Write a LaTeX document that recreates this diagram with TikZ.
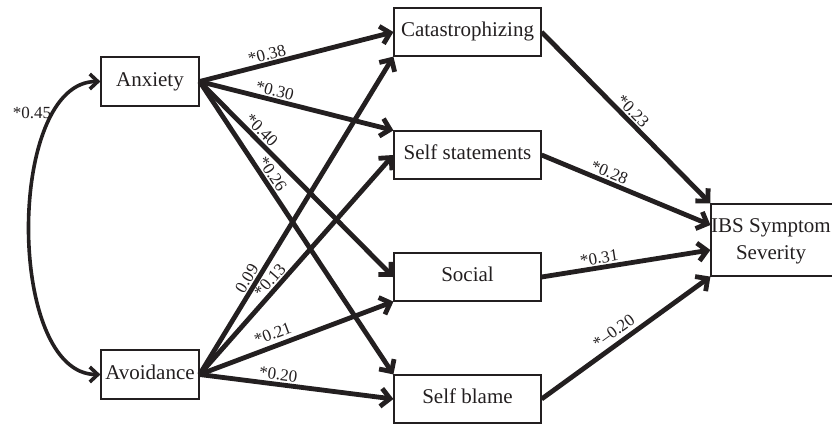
\documentclass[tikz,border=0pt]{standalone}
\usepackage{fontspec}
\setmainfont{Liberation Serif}
\usetikzlibrary{arrows.meta}
\definecolor{ink}{RGB}{35,31,32}
\begin{document}
\begin{tikzpicture}[x=1pt,y=-1pt,
  box/.style={draw=ink, line width=1.2pt, text=ink, inner sep=0pt,
    font=\fontsize{21}{28}\selectfont},
  sbox/.style={box, minimum width=147pt, minimum height=48pt, text height=14.3pt, text depth=4.6pt},
  conn/.style={draw=ink, line width=4.8pt, -{Straight Barb[length=9pt,width=18pt]}},
  lab/.style={text=ink, font=\fontsize{17}{20}\selectfont, inner sep=1.5pt, sloped, above}
]
\useasboundingbox (0,0) rectangle (832,423);

\node[box, minimum width=98pt, minimum height=49pt, text height=14.3pt, text depth=4.6pt] (anx) at (150,81.5) {Anxiety};
\node[box, minimum width=98pt, minimum height=49pt, text height=14.3pt, text depth=4.6pt] (avo) at (150,374.5) {Avoidance};
\node[sbox] (cat) at (467.5,32) {Catastrophizing};
\node[sbox] (ss) at (467.5,155) {Self statements};
\node[sbox] (soc) at (467.5,277) {Social};
\node[sbox] (sb) at (467.5,399) {Self blame};
\node[box, minimum width=129pt, minimum height=72pt] (ibs) at (775.5,240) {};
\node[text=ink, inner sep=0pt, align=center, font=\fontsize{21}{27}\selectfont] (ibstext) at (771,241) {IBS Symptom\\Severity};

% correlation
\draw[draw=ink, line width=3.6pt, {Straight Barb[length=8pt,width=15pt]}-{Straight Barb[length=8pt,width=15pt]}]
  (anx.west) .. controls (6,81.5) and (6,374.5) .. (avo.west);
\node[text=ink, font=\fontsize{17}{20}\selectfont, inner sep=0pt] (l45) at (32,113) {*0.45};

% from Anxiety
\draw[conn] (anx.east) -- node[lab,pos=0.36] (l38) {*0.38} (cat.west);
\draw[conn] (anx.east) -- node[lab,pos=0.376] (l30) {*0.30} (ss.north west);
\draw[conn] (anx.east) -- node[lab,pos=0.284] (l40) {*0.40} (soc.west);
\draw[conn] (anx.east) -- node[lab,pos=0.334] (l26) {*0.26} (sb.north west);

% from Avoidance
\draw[conn] (avo.east) -- node[lab,pos=0.286] (l09) {0.09} (cat.south west);
\draw[conn] (avo.east) -- node[lab,pos=0.40] (l13) {*0.13} (ss.west);
\draw[conn] (avo.east) -- node[lab,pos=0.40,inner sep=4pt] (l21) {*0.21} (soc.south west);
\draw[conn] (avo.east) -- node[lab,pos=0.40] (l20) {*0.20} (sb.west);

% to IBS
\draw[conn] (cat.east) -- node[lab,pos=0.50] (l23) {*0.23} (ibs.north west);
\draw[conn] (ss.east) -- node[lab,pos=0.38] (l28) {*0.28} ([yshift=15pt]ibs.west);
\draw[conn] (soc.east) -- node[lab,pos=0.35] (l31) {*0.31} ([yshift=-10pt]ibs.west);
\draw[conn] (sb.east) -- node[lab,pos=0.47,inner sep=4pt] (lm20) {*–0.20} (ibs.south west);
\end{tikzpicture}
\end{document}
